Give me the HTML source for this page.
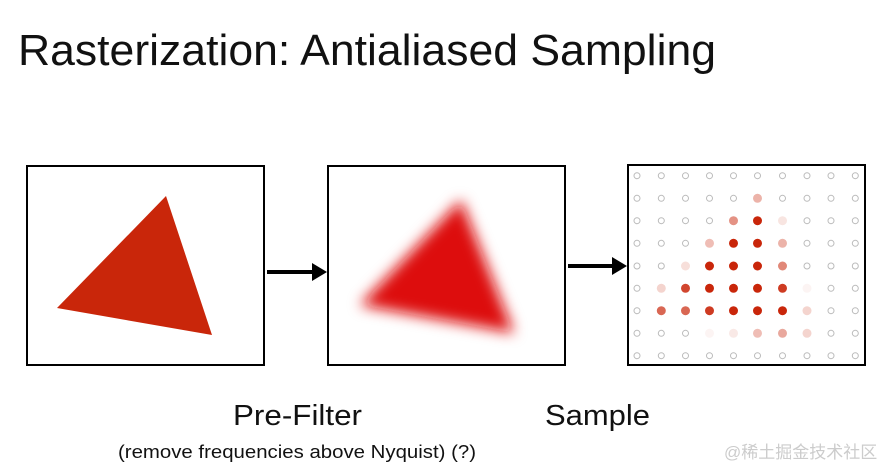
<!DOCTYPE html>
<html><head><meta charset="utf-8"><style>html,body{margin:0;padding:0;background:#fff}svg{display:block}</style></head>
<body>
<svg width="890" height="469" viewBox="0 0 890 469" xmlns="http://www.w3.org/2000/svg" font-family="Liberation Sans, sans-serif">
<defs>
<filter id="b" x="-30%" y="-30%" width="160%" height="160%"><feGaussianBlur stdDeviation="7"/></filter>
</defs>
<text x="18" y="65" font-size="44" fill="#111" textLength="698" lengthAdjust="spacingAndGlyphs">Rasterization: Antialiased Sampling</text>

<rect x="27" y="166" width="237" height="199" fill="#fff" stroke="#000" stroke-width="2"/>
<polygon points="166,196 57,308 212,335" fill="#c9260a"/>

<rect x="328" y="166" width="237" height="199" fill="#fff" stroke="#000" stroke-width="2"/>
<polygon points="461,200 360,305 514,333" fill="#dd0c0c" filter="url(#b)"/>

<rect x="628" y="165" width="237" height="200" fill="#fff" stroke="#000" stroke-width="2"/>

<line x1="267" y1="272" x2="318" y2="272" stroke="#000" stroke-width="4"/>
<path d="M312,263 L327,272 L312,281 z" fill="#000"/>
<line x1="568" y1="266" x2="618" y2="266" stroke="#000" stroke-width="4"/>
<path d="M612,257 L627,266 L612,275 z" fill="#000"/>

<g fill="none" stroke="#bbb" stroke-width="1">
<!-- row 0 -->
<circle cx="637" cy="175.7" r="3"/><circle cx="661.3" cy="175.7" r="3"/><circle cx="685.5" cy="175.7" r="3"/><circle cx="709.5" cy="175.7" r="3"/><circle cx="733.5" cy="175.7" r="3"/><circle cx="757.5" cy="175.7" r="3"/><circle cx="782.5" cy="175.7" r="3"/><circle cx="807" cy="175.7" r="3"/><circle cx="831" cy="175.7" r="3"/><circle cx="855.3" cy="175.7" r="3"/>
<!-- row 1 -->
<circle cx="637" cy="198.3" r="3"/><circle cx="661.3" cy="198.3" r="3"/><circle cx="685.5" cy="198.3" r="3"/><circle cx="709.5" cy="198.3" r="3"/><circle cx="733.5" cy="198.3" r="3"/><circle cx="782.5" cy="198.3" r="3"/><circle cx="807" cy="198.3" r="3"/><circle cx="831" cy="198.3" r="3"/><circle cx="855.3" cy="198.3" r="3"/>
<!-- row 2 -->
<circle cx="637" cy="220.7" r="3"/><circle cx="661.3" cy="220.7" r="3"/><circle cx="685.5" cy="220.7" r="3"/><circle cx="709.5" cy="220.7" r="3"/><circle cx="807" cy="220.7" r="3"/><circle cx="831" cy="220.7" r="3"/><circle cx="855.3" cy="220.7" r="3"/>
<!-- row 3 -->
<circle cx="637" cy="243.3" r="3"/><circle cx="661.3" cy="243.3" r="3"/><circle cx="685.5" cy="243.3" r="3"/><circle cx="807" cy="243.3" r="3"/><circle cx="831" cy="243.3" r="3"/><circle cx="855.3" cy="243.3" r="3"/>
<!-- row 4 -->
<circle cx="637" cy="266" r="3"/><circle cx="661.3" cy="266" r="3"/><circle cx="807" cy="266" r="3"/><circle cx="831" cy="266" r="3"/><circle cx="855.3" cy="266" r="3"/>
<!-- row 5 -->
<circle cx="637" cy="288.3" r="3"/><circle cx="831" cy="288.3" r="3"/><circle cx="855.3" cy="288.3" r="3"/>
<!-- row 6 -->
<circle cx="637" cy="310.7" r="3"/><circle cx="831" cy="310.7" r="3"/><circle cx="855.3" cy="310.7" r="3"/>
<!-- row 7 -->
<circle cx="637" cy="333.3" r="3"/><circle cx="661.3" cy="333.3" r="3"/><circle cx="685.5" cy="333.3" r="3"/><circle cx="831" cy="333.3" r="3"/><circle cx="855.3" cy="333.3" r="3"/>
<!-- row 8 -->
<circle cx="637" cy="355.7" r="3"/><circle cx="661.3" cy="355.7" r="3"/><circle cx="685.5" cy="355.7" r="3"/><circle cx="709.5" cy="355.7" r="3"/><circle cx="733.5" cy="355.7" r="3"/><circle cx="757.5" cy="355.7" r="3"/><circle cx="782.5" cy="355.7" r="3"/><circle cx="807" cy="355.7" r="3"/><circle cx="831" cy="355.7" r="3"/><circle cx="855.3" cy="355.7" r="3"/>
</g>
<g fill="#c9260a">
<circle cx="757.5" cy="198.3" r="4.5" fill-opacity=".35"/>
<circle cx="733.5" cy="220.7" r="4.5" fill-opacity=".5"/><circle cx="757.5" cy="220.7" r="4.5"/><circle cx="782.5" cy="220.7" r="4.5" fill-opacity=".12"/>
<circle cx="709.5" cy="243.3" r="4.5" fill-opacity=".3"/><circle cx="733.5" cy="243.3" r="4.5"/><circle cx="757.5" cy="243.3" r="4.5"/><circle cx="782.5" cy="243.3" r="4.5" fill-opacity=".35"/>
<circle cx="685.5" cy="266" r="4.5" fill-opacity=".15"/><circle cx="709.5" cy="266" r="4.5"/><circle cx="733.5" cy="266" r="4.5"/><circle cx="757.5" cy="266" r="4.5"/><circle cx="782.5" cy="266" r="4.5" fill-opacity=".55"/>
<circle cx="661.3" cy="288.3" r="4.5" fill-opacity=".2"/><circle cx="685.5" cy="288.3" r="4.5" fill-opacity=".85"/><circle cx="709.5" cy="288.3" r="4.5"/><circle cx="733.5" cy="288.3" r="4.5"/><circle cx="757.5" cy="288.3" r="4.5"/><circle cx="782.5" cy="288.3" r="4.5" fill-opacity=".9"/><circle cx="807" cy="288.3" r="4.5" fill-opacity=".05"/>
<circle cx="661.3" cy="310.7" r="4.5" fill-opacity=".7"/><circle cx="685.5" cy="310.7" r="4.5" fill-opacity=".7"/><circle cx="709.5" cy="310.7" r="4.5" fill-opacity=".9"/><circle cx="733.5" cy="310.7" r="4.5"/><circle cx="757.5" cy="310.7" r="4.5"/><circle cx="782.5" cy="310.7" r="4.5"/><circle cx="807" cy="310.7" r="4.5" fill-opacity=".2"/>
<circle cx="709.5" cy="333.3" r="4.5" fill-opacity=".05"/><circle cx="733.5" cy="333.3" r="4.5" fill-opacity=".1"/><circle cx="757.5" cy="333.3" r="4.5" fill-opacity=".3"/><circle cx="782.5" cy="333.3" r="4.5" fill-opacity=".4"/><circle cx="807" cy="333.3" r="4.5" fill-opacity=".2"/>
</g>

<text x="233" y="425" font-size="29" fill="#111" textLength="129" lengthAdjust="spacingAndGlyphs">Pre-Filter</text>
<text x="545" y="425" font-size="29" fill="#111" textLength="105" lengthAdjust="spacingAndGlyphs">Sample</text>
<text x="118" y="458" font-size="18" fill="#111" textLength="358" lengthAdjust="spacingAndGlyphs">(remove frequencies above Nyquist) (?)</text>
<text x="724" y="458" font-size="17" fill="#ccc" font-family="Liberation Sans, Noto Sans CJK SC, sans-serif">@稀土掘金技术社区</text>
</svg>
</body></html>
